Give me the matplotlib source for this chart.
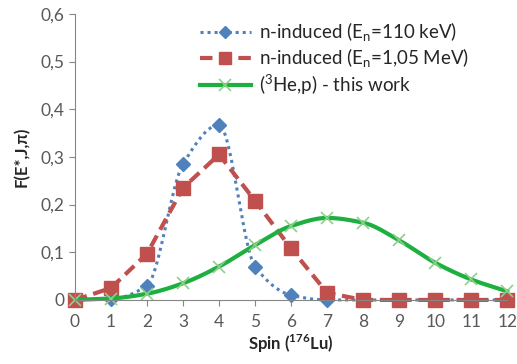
import matplotlib
matplotlib.use("Agg")
import matplotlib.pyplot as plt
import numpy as np

spin = np.arange(0, 13)
n_110kev = [0, 0.002, 0.03, 0.285, 0.367, 0.07, 0.01, 0, 0, 0, 0, 0, 0]
n_105mev = [0, 0.025, 0.097, 0.235, 0.305, 0.208, 0.108, 0.015, 0, 0, 0, 0, 0]
he3p = [0, 0.003, 0.013, 0.035, 0.07, 0.115, 0.155, 0.172, 0.162, 0.125, 0.078, 0.043, 0.018]
yticks = [0, 0.1, 0.2, 0.3, 0.4, 0.5, 0.6]
ytick_labels = ["0", "0,1", "0,2", "0,3", "0,4", "0,5", "0,6"]


def smooth(x, y, n=20):
    # monotone cubic (fritsch-carlson) so the curve doesn't overshoot the points
    x = np.asarray(x, float)
    y = np.asarray(y, float)
    h = np.diff(x)
    d = np.diff(y) / h
    m = np.zeros_like(y)
    m[0], m[-1] = d[0], d[-1]
    for i in range(1, len(y) - 1):
        if d[i - 1] * d[i] > 0:
            m[i] = 2 / (1 / d[i - 1] + 1 / d[i])
    xs, ys = [], []
    t = np.linspace(0, 1, n, endpoint=False)
    for i in range(len(h)):
        h00 = 2 * t ** 3 - 3 * t ** 2 + 1
        h10 = t ** 3 - 2 * t ** 2 + t
        h01 = -2 * t ** 3 + 3 * t ** 2
        h11 = t ** 3 - t ** 2
        xs.extend(x[i] + t * h[i])
        ys.extend(h00 * y[i] + h10 * h[i] * m[i] + h01 * y[i + 1] + h11 * h[i] * m[i + 1])
    xs.append(x[-1])
    ys.append(y[-1])
    return np.array(xs), np.array(ys)


plt.rcParams['font.family'] = ['Lato', 'DejaVu Sans']
fig = plt.figure(figsize=(5.17, 3.64), dpi=100)
ax = fig.add_axes([0.145, 0.176, 0.836, 0.786])

blue, red, green = "#4F81BD", "#C0504D", "#1DB040"

sx, sy = smooth(spin, n_110kev)
ax.plot(sx, sy, color=blue, ls=(0, (1, 1.3)), lw=2.2, clip_on=False)
ax.plot(spin, n_110kev, ls="none", marker="D", ms=7, color=blue, clip_on=False)

ax.plot(spin, n_105mev, color=red, ls=(0, (3, 1.6)), lw=3, clip_on=False)
ax.plot(spin, n_105mev, ls="none", marker="s", ms=10, color=red, clip_on=False)

sx, sy = smooth(spin, he3p)
ax.plot(sx, sy, color=green, lw=3, clip_on=False)
ax.plot(spin, he3p, ls="none", marker="x", ms=8, mew=1.2, color="#8FCF8A", clip_on=False)

# legend proxies
h1, = ax.plot([], [], color=blue, ls=(0, (1, 1.3)), lw=2.2, marker="D", ms=6)
h2, = ax.plot([], [], color=red, ls=(0, (3, 1.6)), lw=3, marker="s", ms=8)
h3, = ax.plot([], [], color=green, lw=3, marker="x", ms=8, mew=1.2, mec="#8FCF8A")
ax.legend([h1, h2, h3],
          ["n-induced (E$_\\mathregular{n}$=110 keV)", "n-induced (E$_\\mathregular{n}$=1,05 MeV)",
           "($^\\mathregular{3}$He,p) - this work"],
          loc="upper left", bbox_to_anchor=(0.25, 1.035), frameon=False, fontsize=13.5,
          handlelength=2.7, handletextpad=0.45, labelspacing=0.12, labelcolor="#262626")

ax.set_xlim(0, 12)
ax.set_ylim(0, 0.6)
ax.set_xticks(spin)
ax.set_yticks(yticks)
ax.set_yticklabels(ytick_labels)
ax.tick_params(colors="#868686", labelcolor="#595959", labelsize=12.5, length=4)
ax.tick_params(axis="x", pad=6)
for s in ["top", "right"]:
    ax.spines[s].set_visible(False)
ax.spines["left"].set_color("#868686")
ax.spines["bottom"].set_color("#868686")
ax.set_xlabel("Spin ($^\\mathregular{176}$Lu)", fontweight="bold", fontsize=12, color="#262626", labelpad=2)
ax.set_ylabel("F(E*,J,π)", fontweight="bold", fontsize=12, color="#262626", labelpad=8)

fig.savefig("out.png", dpi=100)
